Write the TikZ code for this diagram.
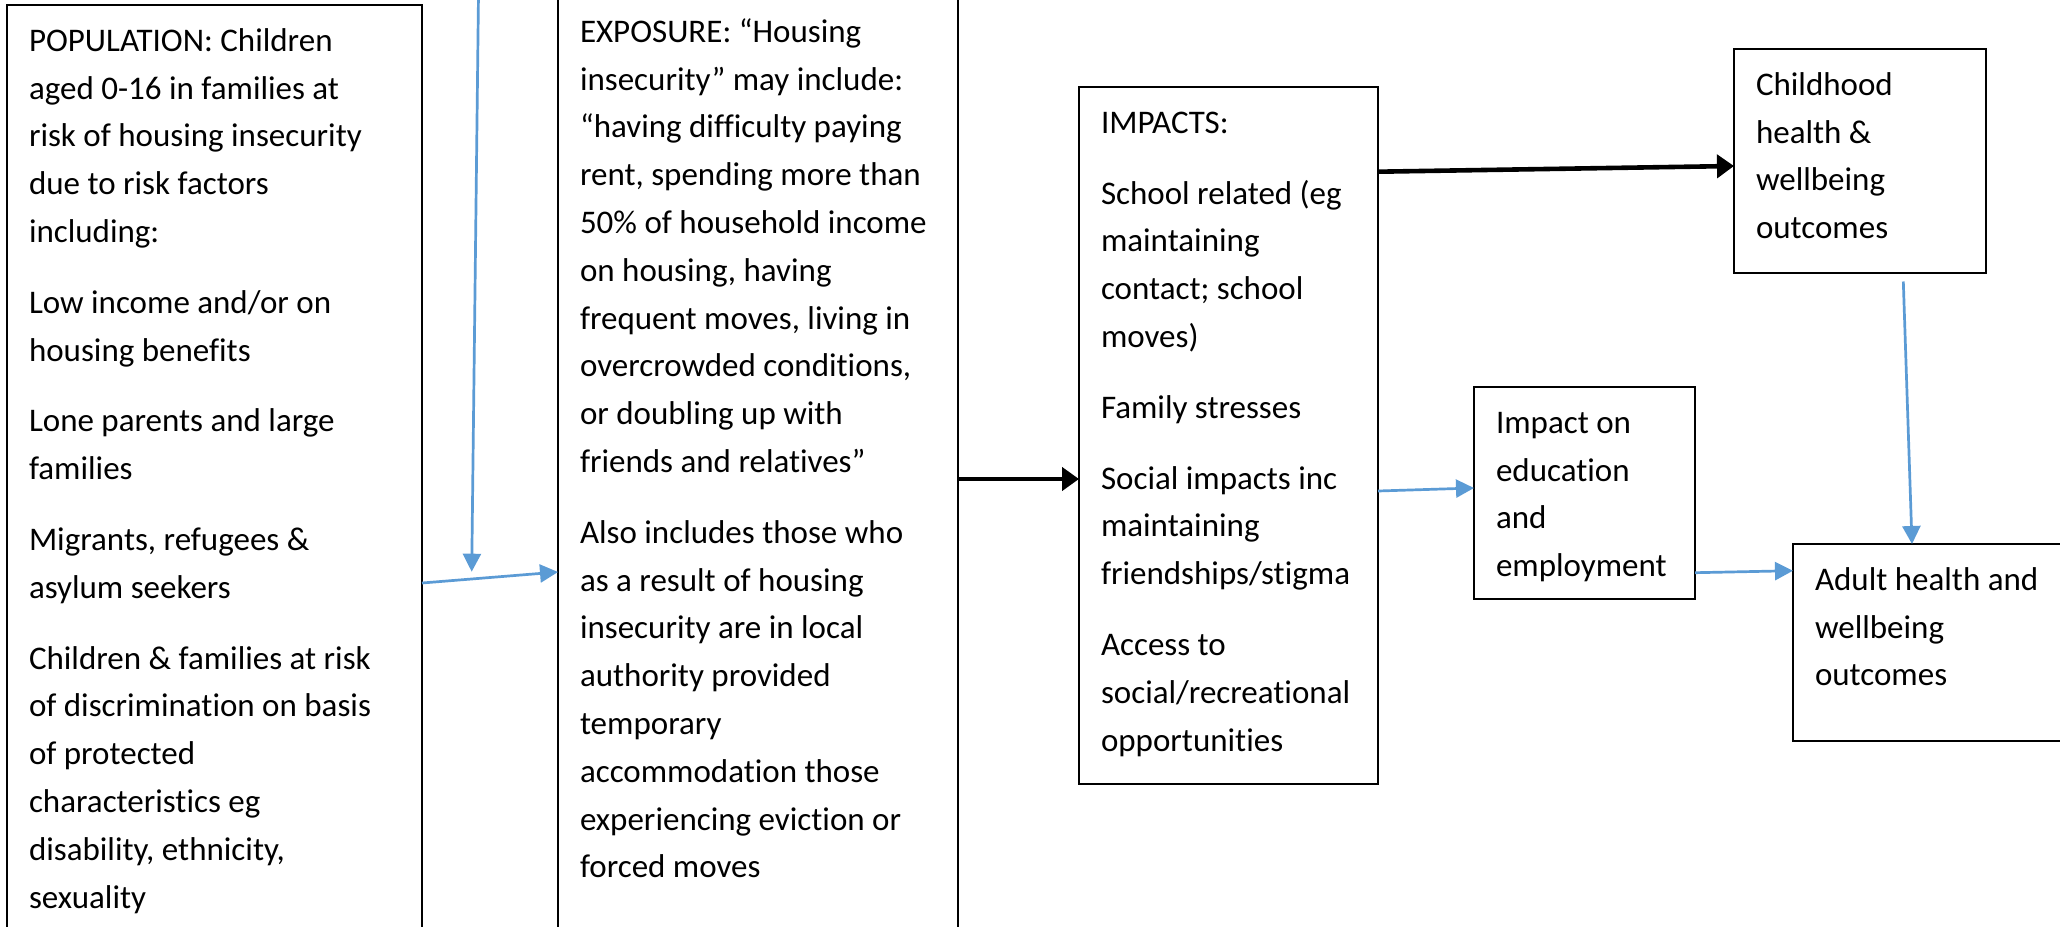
\documentclass[tikz,border=0pt]{standalone}
\usepackage{fontspec}
\setmainfont{Carlito}[Ligatures=NoCommon]
\usetikzlibrary{arrows.meta,calc}
\definecolor{arrblue}{RGB}{91,155,213}
\newcommand{\boxtxt}[3]{\parbox[t][#2pt][t]{#1pt}{\raggedright\strut #3}}
\tikzset{
  diagbox/.style={draw=black, line width=2pt, rectangle, anchor=north west,
    inner xsep=22pt, inner ysep=12.9pt, outer sep=0pt,
    font=\fontsize{33}{47.8}\selectfont},
  bluearr/.style={draw=arrblue, line width=2.7pt, -{Triangle[length=18pt,width=18pt]}},
  blackarr/.style={draw=black, line width=4.6pt, -{Triangle[length=17pt,width=23pt]}}
}
\begin{document}
\begin{tikzpicture}[x=1pt,y=-1pt]
\useasboundingbox (0,0) rectangle (2060,926);
\fill[white] (0,0) rectangle (2060,926);

\node[diagbox, line width=2.6pt] (pop) at (7,5) {\boxtxt{371}{914}{%
POPULATION: Children\\
aged 0-16 in families at\\
risk of housing insecurity\\
due to risk factors\\
including:\\[23pt]
Low income and/or on\\
housing benefits\\[23pt]
Lone parents and large\\
families\\[23pt]
Migrants, refugees \&\\
asylum seekers\\[23pt]
Children \& families at risk\\
of discrimination on basis\\
of protected\\
characteristics eg\\
disability, ethnicity,\\
sexuality}};

\node[diagbox, line width=2.5pt] (exp) at (558,-4) {\boxtxt{356}{923}{%
EXPOSURE: “Housing\\
insecurity” may include:\\
“having difficulty paying\\
rent, spending more than\\
50\% of household income\\
on housing, having\\
frequent moves, living in\\
overcrowded conditions,\\
or doubling up with\\
friends and relatives”\\[23pt]
Also includes those who\\
as a result of housing\\
insecurity are in local\\
authority provided\\
temporary\\
accommodation those\\
experiencing eviction or\\
forced moves}};

\node[diagbox, line width=1.8pt] (imp) at (1079,87) {\boxtxt{255}{671}{%
IMPACTS:\\[23pt]
School related (eg\\
maintaining\\
contact; school\\
moves)\\[23pt]
Family stresses\\[23pt]
Social impacts inc\\
maintaining\\
friendships/stigma\\[23pt]
Access to\\
social/recreational\\
opportunities}};

\node[diagbox, line width=1.8pt] (child) at (1734,49) {\boxtxt{208}{198}{%
Childhood\\
health \&\\
wellbeing\\
outcomes}};

\node[diagbox, line width=1.8pt] (edu) at (1474,387) {\boxtxt{177}{186}{%
Impact on\\
education\\
and\\
employment}};

\node[diagbox, line width=1.8pt] (adult) at (1793,544) {\boxtxt{238}{171}{%
Adult health and\\
wellbeing\\
outcomes}};

\coordinate (vtop) at (478.5,-6);
\coordinate (vtip) at (471.7,571.7);
\draw[bluearr] (vtop) -- (vtip);
\draw[bluearr] (pop.east |- 0,583) -- (exp.west |- 0,572);
\draw[blackarr] (exp.east |- 0,479) -- (imp.west |- 0,479);
\draw[blackarr] (imp.east |- 0,171.7) -- (child.west |- 0,166);
\draw[bluearr] (imp.east |- 0,491) -- (edu.west |- 0,488);
\draw[bluearr] (edu.east |- 0,572.7) -- (adult.west |- 0,570.7);
\draw[bluearr] ($(child.south -| 1903.3,0)+(0,8.7)$) -- (adult.north -| 1912,0);
\end{tikzpicture}
\end{document}
